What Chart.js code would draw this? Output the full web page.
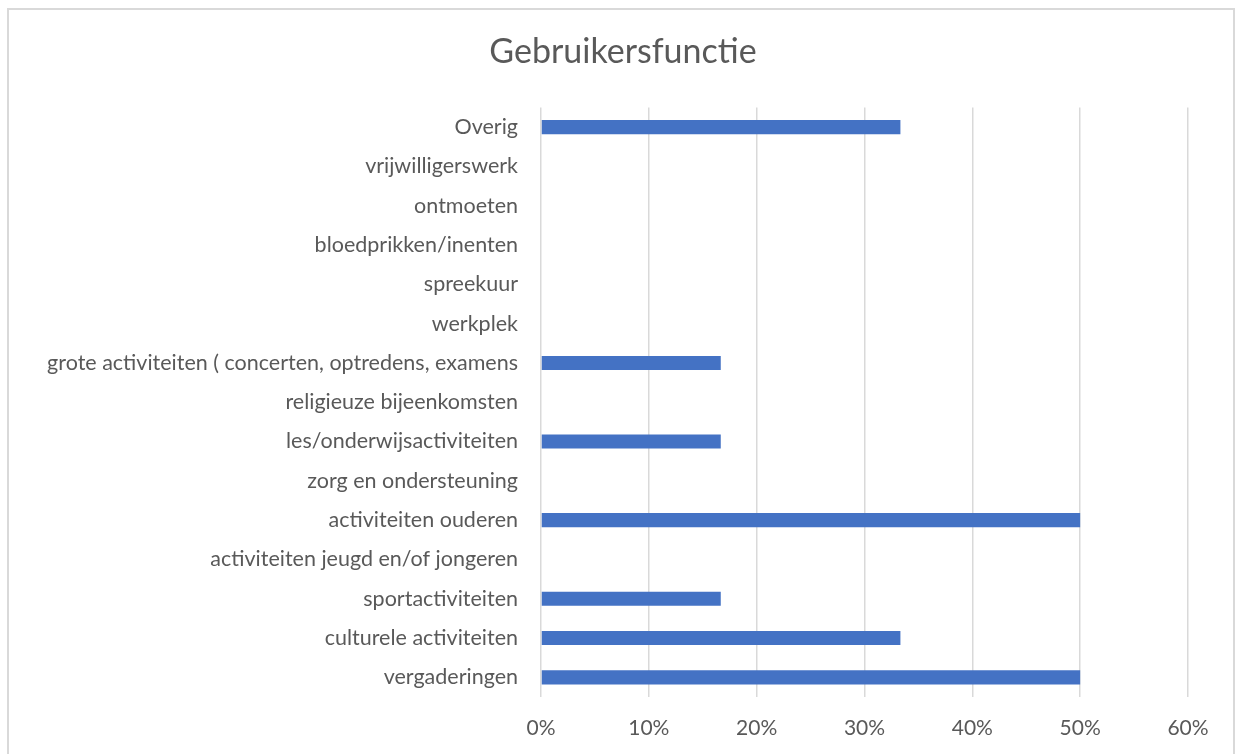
<!DOCTYPE html>
<html>
<head>
<meta charset="utf-8">
<script src="https://cdn.jsdelivr.net/npm/chart.js@4"></script>
<style>
  html, body { margin:0; padding:0; background:#fff; overflow:hidden; }
  #wrap { position:relative; width:1239px; height:754px; }
  #frame { position:absolute; left:7px; top:8px; width:1228px; height:760px; border:2px solid #d9d9d9; box-sizing:border-box; }
  canvas { position:absolute; left:0; top:0; }
</style>
</head>
<body>
<div id="wrap">
  <div id="frame"></div>
  <canvas id="chart" width="1239" height="754"></canvas>
</div>
<script>
const chartTitle = 'Gebruikersfunctie';
// categories, top to bottom as in the picture
const categories = [
  'Overig',
  'vrijwilligerswerk',
  'ontmoeten',
  'bloedprikken/inenten',
  'spreekuur',
  'werkplek',
  'grote activiteiten ( concerten, optredens, examens',
  'religieuze bijeenkomsten',
  'les/onderwijsactiviteiten',
  'zorg en ondersteuning',
  'activiteiten ouderen',
  'activiteiten jeugd en/of jongeren',
  'sportactiviteiten',
  'culturele activiteiten',
  'vergaderingen'
];
// share in percent
const shares = [33.33, 0, 0, 0, 0, 0, 16.67, 0, 16.67, 0, 50, 0, 16.67, 33.33, 50];
const xTicks = [0, 10, 20, 30, 40, 50, 60];

const FONT = 'Lato, "Open Sans", sans-serif';
const TEXT = '#595959';

// title sits centred on the whole frame, not over the plot, so draw it ourselves
const frameTitle = {
  id: 'frameTitle',
  afterDraw(chart) {
    const c = chart.ctx;
    c.save();
    c.font = '34px ' + FONT;
    c.fillStyle = TEXT;
    c.textAlign = 'center';
    c.textBaseline = 'middle';
    c.fillText(chartTitle, 623, 52);
    c.restore();
  }
};

const ctx = document.getElementById('chart').getContext('2d');
new Chart(ctx, {
  type: 'bar',
  data: {
    labels: categories,
    datasets: [{ data: shares, backgroundColor: '#4472C4', barPercentage: 0.36, categoryPercentage: 1 }]
  },
  plugins: [frameTitle],
  options: {
    indexAxis: 'y',
    responsive: false,
    animation: false,
    layout: { padding: { left: 0, right: 51, top: 107.5, bottom: 0 } },
    plugins: {
      legend: { display: false },
      tooltip: { enabled: false },
      title: { display: false }
    },
    scales: {
      x: {
        min: 0, max: 60,
        afterBuildTicks: s => { s.ticks = xTicks.map(v => ({ value: v })); },
        grid: { color: '#d9d9d9', lineWidth: 1.5, drawTicks: false },
        border: { display: false },
        ticks: { color: TEXT, font: { family: FONT, size: 21 }, padding: 19, callback: v => v + '%' },
        afterFit: s => { s.height = 57; }
      },
      y: {
        grid: { display: false, drawTicks: false },
        border: { display: false },
        ticks: { color: TEXT, font: { family: FONT, size: 21.5 }, padding: 23, autoSkip: false },
        afterFit: s => { s.width = 541; }
      }
    }
  }
});
</script>
</body>
</html>
